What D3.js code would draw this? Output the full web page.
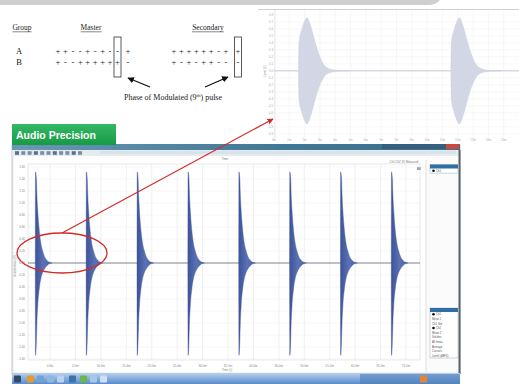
<!DOCTYPE html>
<html>
<head>
<meta charset="utf-8">
<script src="https://cdn.jsdelivr.net/npm/d3@7"></script>
<style>
  body { margin: 0; background: #fff; overflow: hidden; }
  svg { display: block; }
</style>
</head>
<body>
<svg id="chart" width="519" height="384"></svg>
<script>
// ---- data ----
// phase diagram (8 pulses + boxed 9th pulse)
const groups = ["A", "B"];
const masterPhases = [["+", "+", "-", "-", "+", "-", "+", "-"], ["+", "-", "-", "+", "+", "+", "+", "+"]];
const masterNinth = ["-", "+"];
const masterAfter = ["+", "-"];
const secondaryPhases = [["+", "+", "+", "+", "+", "+", "-", "+"], ["+", "-", "+", "-", "+", "+", "-", "-"]];
const secondaryNinth = ["+", "-"];

// main capture (Audio Precision), time in ms, level in V
const mainPulseOnsets = [-2.9, 7.1, 17.1, 27.1, 37.1, 47.1, 57.1, 67.1];
const mainEnvOffsets = [0, 0.05, 0.22, 0.32, 0.48, 0.8, 1.1, 1.45, 1.8, 2.15, 2.6, 3.3];
const mainEnvUpper = [0, 1.52, 1.4, 1.14, 0.88, 0.53, 0.33, 0.2, 0.11, 0.06, 0.02, 0];
const mainEnvLower = [0, 1.54, 1.3, 1.0, 0.72, 0.42, 0.26, 0.16, 0.1, 0.06, 0.02, 0];
const mainXTicks = [0, 5, 10, 15, 20, 25, 30, 35, 40, 45, 50, 55, 60, 65, 70];
const mainYTicks = [-1.6, -1.4, -1.2, -1.0, -0.8, -0.6, -0.4, -0.2, 0, 0.2, 0.4, 0.6, 0.8, 1.0, 1.2, 1.4, 1.6];

// zoomed inset, time in ms, level in V
const insetPulseOnsets = [1.6, 11.55];
const insetEnvOffsets = [0, 0.03, 0.2, 0.4, 0.55, 0.8, 1.05, 1.3, 1.57, 1.83, 2.15, 2.6, 3.3];
const insetEnvAmp = [0, 0.4, 0.58, 0.71, 0.76, 0.64, 0.44, 0.26, 0.12, 0.05, 0.02, 0.006, 0];
const insetXTicks = [0, 1, 2, 3, 4, 5, 6, 7, 8, 9, 10, 11, 12, 13, 14, 15];
const insetYTicks = [-0.9, -0.8, -0.7, -0.6, -0.5, -0.4, -0.3, -0.2, -0.1, 0, 0.1, 0.2, 0.3, 0.4, 0.5, 0.6, 0.7, 0.8];

const svg = d3.select("#chart");
const serif = "'Liberation Serif', 'DejaVu Serif', serif";
const sans = "'Liberation Sans', Arial, sans-serif";

// ---- slide frame at the very top ----
svg.append("path")
  .attr("d", "M0,0 H440 Q436,5 428,5 H0 Z")
  .attr("fill", "#cfcfcf");

// ---- phase diagram ----
const dg = svg.append("g").attr("font-family", serif).attr("fill", "#1a1a1a");
[["Group", 22], ["Master", 91], ["Secondary", 208]].forEach(([t, x]) => {
  const tx = dg.append("text").attr("x", x).attr("y", 30).attr("font-size", 7.5)
    .attr("text-anchor", "middle").text(t);
  const w = tx.node().getComputedTextLength();
  dg.append("line").attr("x1", x - w / 2).attr("x2", x + w / 2).attr("y1", 31.8).attr("y2", 31.8)
    .attr("stroke", "#333").attr("stroke-width", 0.6);
});

const rowY = d3.scalePoint().domain(groups).range([51, 62]);
const masterX = d3.scalePoint().domain(d3.range(8)).range([58, 110]);
const secondaryX = d3.scalePoint().domain(d3.range(8)).range([174, 226]);
const sym = (x, y, s) => dg.append("text").attr("x", x).attr("y", y + 2.5).attr("font-size", 8.5)
  .attr("text-anchor", "middle").text(s);

groups.forEach((g, i) => {
  dg.append("text").attr("x", 19).attr("y", rowY(g) + 2.5).attr("font-size", 8.5)
    .attr("text-anchor", "middle").text(g);
  masterPhases[i].forEach((s, k) => sym(masterX(k), rowY(g), s));
  sym(117.5, rowY(g), masterNinth[i]);
  sym(128, rowY(g), masterAfter[i]);
  secondaryPhases[i].forEach((s, k) => sym(secondaryX(k), rowY(g), s));
  sym(238, rowY(g), secondaryNinth[i]);
});
[114, 234.5].forEach(x => dg.append("rect").attr("x", x).attr("y", 37).attr("width", 7).attr("height", 40)
  .attr("fill", "none").attr("stroke", "#333").attr("stroke-width", 0.8));

const defs = svg.append("defs");
defs.append("marker").attr("id", "blackArrow").attr("viewBox", "0 0 10 10").attr("refX", 9).attr("refY", 5)
  .attr("markerWidth", 5).attr("markerHeight", 5).attr("orient", "auto")
  .append("path").attr("d", "M0,0 L10,5 L0,10 Z").attr("fill", "#111");
defs.append("marker").attr("id", "redArrow").attr("viewBox", "0 0 10 10").attr("refX", 9).attr("refY", 5)
  .attr("markerWidth", 5).attr("markerHeight", 5).attr("orient", "auto")
  .append("path").attr("d", "M0,0 L10,5 L0,10 Z").attr("fill", "#d42a2a");

dg.append("line").attr("x1", 150).attr("y1", 87).attr("x2", 128).attr("y2", 78)
  .attr("stroke", "#111").attr("stroke-width", 1.3).attr("marker-end", "url(#blackArrow)");
dg.append("line").attr("x1", 205).attr("y1", 87).attr("x2", 228).attr("y2", 77)
  .attr("stroke", "#111").attr("stroke-width", 1.3).attr("marker-end", "url(#blackArrow)");
const ph = dg.append("text").attr("x", 173).attr("y", 100).attr("font-size", 8).attr("text-anchor", "middle");
ph.append("tspan").text("Phase of Modulated (9");
ph.append("tspan").attr("font-size", 5).attr("dy", -3).text("th");
ph.append("tspan").attr("dy", 3).text(") pulse");

// ---- inset (zoomed capture) ----
const ix = d3.scaleLinear().domain([0, 16]).range([274, 519]);
const iy = d3.scaleLinear().domain([-0.96, 0.87]).range([138, 10]);
const ig = svg.append("g");
ig.append("rect").attr("x", 258).attr("y", 6).attr("width", 261).attr("height", 137).attr("fill", "#fff");
ig.append("line").attr("x1", 258).attr("x2", 519).attr("y1", 9.5).attr("y2", 9.5).attr("stroke", "#d0d0d0");
ig.selectAll(".ivgrid").data(insetXTicks).enter().append("line")
  .attr("x1", d => ix(d)).attr("x2", d => ix(d)).attr("y1", 10).attr("y2", 138)
  .attr("stroke", "#efefef").attr("stroke-width", 0.5);
ig.selectAll(".ihgrid").data(insetYTicks).enter().append("line")
  .attr("x1", 274).attr("x2", 519).attr("y1", d => iy(d)).attr("y2", d => iy(d))
  .attr("stroke", "#f1f1f1").attr("stroke-width", 0.5);
ig.append("line").attr("x1", 275).attr("x2", 275).attr("y1", 10).attr("y2", 138).attr("stroke", "#d8d8d8").attr("stroke-width", 0.6);
ig.selectAll(".iyl").data(insetYTicks).enter().append("text")
  .attr("x", 273).attr("y", d => iy(d) + 1).attr("text-anchor", "end")
  .attr("font-size", 2.8).attr("font-family", sans).attr("fill", "#aaa").text(d => d.toFixed(1));
ig.selectAll(".ixl").data(insetXTicks).enter().append("text")
  .attr("x", d => ix(d)).attr("y", 141).attr("text-anchor", "middle")
  .attr("font-size", 2.8).attr("font-family", sans).attr("fill", "#aaa").text(d => d + "m");
ig.append("text").attr("transform", "translate(266,71) rotate(-90)").attr("text-anchor", "middle")
  .attr("font-size", 2.8).attr("font-family", sans).attr("fill", "#999").text("Level (V)");
ig.append("line").attr("x1", 274).attr("x2", 519).attr("y1", iy(0)).attr("y2", iy(0))
  .attr("stroke", "#c9cbd8").attr("stroke-width", 1);

const insetEnv = insetEnvOffsets.map((o, i) => ({ o, a: insetEnvAmp[i] }));
const insetArea = onset => d3.area()
  .x(d => ix(onset + d.o)).y0(d => iy(-d.a)).y1(d => iy(d.a)).curve(d3.curveMonotoneX);
ig.selectAll(".ipulse").data(insetPulseOnsets).enter().append("path")
  .attr("d", d => insetArea(d)(insetEnv))
  .attr("fill", "#d3d6e5").attr("stroke", "#c7cadb").attr("stroke-width", 0.4);

// ---- main Audio Precision window ----
const win = svg.append("g");
win.append("rect").attr("x", 12).attr("y", 145).attr("width", 448).attr("height", 229).attr("fill", "#f3f3f3")
  .attr("stroke", "#9aa7b2").attr("stroke-width", 0.6);
const tbGrad = defs.append("linearGradient").attr("id", "titleGrad").attr("x1", 0).attr("x2", 1);
tbGrad.append("stop").attr("offset", "0").attr("stop-color", "#6b97b6");
tbGrad.append("stop").attr("offset", "0.6").attr("stop-color", "#3f7896");
tbGrad.append("stop").attr("offset", "1").attr("stop-color", "#3b6f8e");
win.append("rect").attr("x", 12).attr("y", 144).attr("width", 448).attr("height", 6).attr("fill", "url(#titleGrad)");
win.append("rect").attr("x", 382).attr("y", 144).attr("width", 64).attr("height", 5).attr("fill", "#365f7e");
win.append("rect").attr("x", 446).attr("y", 144).attr("width", 13).attr("height", 5).attr("fill", "#c9493c");
win.append("rect").attr("x", 12).attr("y", 150).attr("width", 448).attr("height", 6).attr("fill", "#e6ebef");
win.append("rect").attr("x", 100).attr("y", 151).attr("width", 356).attr("height", 3).attr("fill", "#d7e3ea");
d3.range(11).forEach(k => win.append("rect").attr("x", 15 + k * 6.3).attr("y", 151.2).attr("width", 4).attr("height", 3.6)
  .attr("fill", k % 3 === 0 ? "#56728c" : "#7a8ea0"));

// graph panel
win.append("rect").attr("x", 14).attr("y", 156).attr("width", 412).attr("height", 216).attr("fill", "#fff");
win.append("rect").attr("x", 426).attr("y", 156).attr("width", 33).attr("height", 216).attr("fill", "#fbfbfb");
win.append("line").attr("x1", 426).attr("x2", 426).attr("y1", 160).attr("y2", 372).attr("stroke", "#c9c9c9").attr("stroke-width", 0.6);
win.append("rect").attr("x", 458.5).attr("y", 150).attr("width", 2).attr("height", 224).attr("fill", "#56616b");
win.append("text").attr("x", 225).attr("y", 159.5).attr("text-anchor", "middle").attr("font-size", 3)
  .attr("font-family", sans).attr("fill", "#777").text("Time");
win.append("text").attr("x", 404).attr("y", 162.5).attr("text-anchor", "middle").attr("font-size", 2.8)
  .attr("font-family", sans).attr("fill", "#777").text("Ch1 Ch2 (V) Measured");
win.append("rect").attr("x", 417).attr("y", 167).attr("width", 4).attr("height", 3).attr("fill", "#8fa5bb");

const mx = d3.scaleLinear().domain([-4.33, 72.75]).range([28, 420]);
const my = d3.scaleLinear().domain([-1.6, 1.6]).range([359, 167]);
const pg = svg.append("g");
pg.selectAll(".vgrid").data(mainXTicks).enter().append("line")
  .attr("x1", d => mx(d)).attr("x2", d => mx(d)).attr("y1", 164).attr("y2", 360)
  .attr("stroke", "#e6e6e6").attr("stroke-width", 0.6);
pg.selectAll(".hgrid").data(mainYTicks).enter().append("line")
  .attr("x1", 28).attr("x2", 420).attr("y1", d => my(d)).attr("y2", d => my(d))
  .attr("stroke", "#ededed").attr("stroke-width", 0.5);
pg.append("rect").attr("x", 28).attr("y", 164).attr("width", 392).attr("height", 196)
  .attr("fill", "none").attr("stroke", "#dadada").attr("stroke-width", 0.6);
pg.selectAll(".yl").data(mainYTicks).enter().append("text")
  .attr("x", 25).attr("y", d => my(d) + 1).attr("text-anchor", "end")
  .attr("font-size", 3).attr("font-family", sans).attr("fill", "#888").text(d => d.toFixed(2));
pg.selectAll(".xl").data(mainXTicks).enter().append("text")
  .attr("x", d => mx(d)).attr("y", 366.5).attr("text-anchor", "middle")
  .attr("font-size", 3).attr("font-family", sans).attr("fill", "#888").text(d => d.toFixed(1) + "m");
pg.append("text").attr("x", 227).attr("y", 370.5).attr("text-anchor", "middle")
  .attr("font-size", 2.8).attr("font-family", sans).attr("fill", "#888").text("Time (s)");
pg.append("text").attr("transform", "translate(16,266) rotate(-90)").attr("text-anchor", "middle")
  .attr("font-size", 2.8).attr("font-family", sans).attr("fill", "#888").text("Instantaneous (V)");

const pulseGrad = defs.append("linearGradient").attr("id", "pulseGrad").attr("x1", 0).attr("x2", 1);
pulseGrad.append("stop").attr("offset", "0").attr("stop-color", "#3c5398");
pulseGrad.append("stop").attr("offset", "0.5").attr("stop-color", "#5a72b4");
pulseGrad.append("stop").attr("offset", "1").attr("stop-color", "#4960a8");

const mainEnv = mainEnvOffsets.map((o, i) => ({ o, u: mainEnvUpper[i], l: mainEnvLower[i] }));
const mainArea = onset => d3.area()
  .x(d => mx(onset + d.o)).y0(d => my(-d.l)).y1(d => my(d.u)).curve(d3.curveMonotoneX);
pg.append("line").attr("x1", 28).attr("x2", 420).attr("y1", my(0)).attr("y2", my(0))
  .attr("stroke", "#4d5566").attr("stroke-width", 0.7);
pg.selectAll(".pulse").data(mainPulseOnsets).enter().append("path")
  .attr("d", d => mainArea(d)(mainEnv))
  .attr("fill", "url(#pulseGrad)").attr("stroke", "#3e5499").attr("stroke-width", 0.4);

// legend boxes on the right panel
const legend = (y, rows) => {
  win.append("rect").attr("x", 430).attr("y", y).attr("width", 28).attr("height", 4 + rows.length * 4.6)
    .attr("fill", "#fff").attr("stroke", "#9ab").attr("stroke-width", 0.5);
  win.append("rect").attr("x", 430).attr("y", y).attr("width", 28).attr("height", 4).attr("fill", "#2f6fa6");
  rows.forEach((r, k) => {
    if (r.dot) win.append("circle").attr("cx", 433.5).attr("cy", y + 6.2 + k * 4.6).attr("r", 1.3).attr("fill", "#111");
    win.append("text").attr("x", r.dot ? 436 : 432).attr("y", y + 7.3 + k * 4.6).attr("font-size", 2.8)
      .attr("font-family", sans).attr("fill", "#555").text(r.t);
  });
};
legend(164.5, [{ t: "Ch1", dot: true }]);
legend(308, [{ t: "Ch1", dot: true }, { t: "Mean 1", dot: false }, { t: "Ch1 Std", dot: false },
  { t: "Ch2", dot: true }, { t: "Mean 2", dot: false }, { t: "Std dev", dot: false },
  { t: "All meas", dot: false }, { t: "Average", dot: false }, { t: "Cursors", dot: false }, { t: "Level (dBFS)", dot: false }]);

// taskbar
const taskGrad = defs.append("linearGradient").attr("id", "taskGrad").attr("x1", 0).attr("x2", 0).attr("y1", 0).attr("y2", 1);
taskGrad.append("stop").attr("offset", "0").attr("stop-color", "#b7d1ee");
taskGrad.append("stop").attr("offset", "1").attr("stop-color", "#5a8bca");
win.append("rect").attr("x", 12).attr("y", 373).attr("width", 448).attr("height", 11).attr("fill", "url(#taskGrad)");
[[14, "#324a6a"], [27, "#e59a2c"], [37, "#6fa4d6"], [47, "#8cb7e0"], [57, "#b9d2ea"], [69, "#3d74a8"],
 [80, "#6cb64a"], [90, "#a7c8e6"], [100, "#cfe0f0"]].forEach(([x, c]) =>
  win.append("rect").attr("x", x).attr("y", 375.5).attr("width", 7).attr("height", 7).attr("rx", 1).attr("fill", c));
win.append("rect").attr("x", 360).attr("y", 374).attr("width", 100).attr("height", 10).attr("fill", "#4f7fb9").attr("opacity", 0.6);
win.append("rect").attr("x", 420).attr("y", 375.5).attr("width", 7).attr("height", 7).attr("fill", "#e4843a");

// ---- green label ----
const lg = defs.append("linearGradient").attr("id", "greenGrad").attr("x1", 0).attr("x2", 0).attr("y1", 0).attr("y2", 1);
lg.append("stop").attr("offset", "0").attr("stop-color", "#33b866");
lg.append("stop").attr("offset", "1").attr("stop-color", "#179a45");
svg.append("rect").attr("x", 12).attr("y", 124).attr("width", 104).attr("height", 21).attr("fill", "url(#greenGrad)");
svg.append("text").attr("x", 16).attr("y", 139).attr("font-size", 10.5).attr("font-weight", "bold")
  .attr("font-family", sans).attr("fill", "#fff").text("Audio  Precision");

// ---- red annotation ----
svg.append("ellipse").attr("cx", 62).attr("cy", 253).attr("rx", 45).attr("ry", 20)
  .attr("fill", "none").attr("stroke", "#d42a2a").attr("stroke-width", 1.3);
svg.append("line").attr("x1", 62).attr("y1", 233).attr("x2", 273).attr("y2", 119)
  .attr("stroke", "#d42a2a").attr("stroke-width", 1.2).attr("marker-end", "url(#redArrow)");
</script>
</body>
</html>
